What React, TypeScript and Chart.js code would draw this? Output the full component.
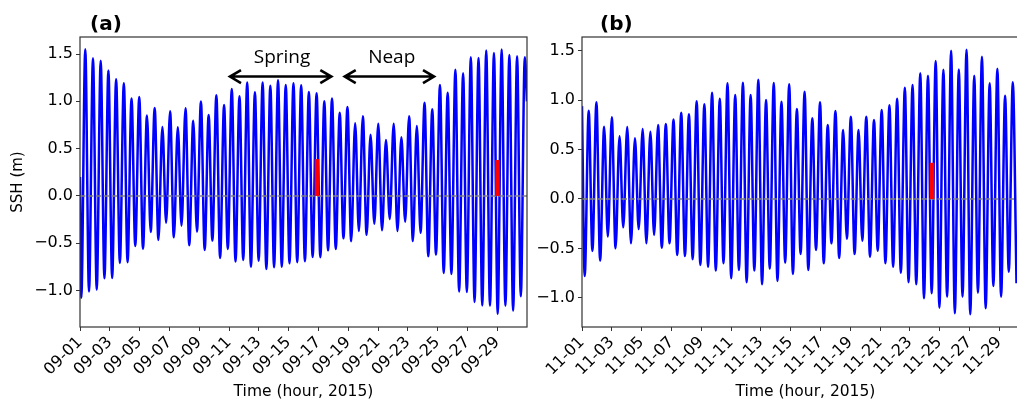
import React, { useEffect, useRef } from 'react';
import { Chart, registerables } from 'chart.js';

Chart.register(...registerables);
Chart.defaults.font.family = "'DejaVu Sans', sans-serif";
Chart.defaults.color = '#000';

// ---- shared ----
const M2_PERIOD_H = 12.42; // spacing between successive high (or low) waters
const SPAN_HOURS = 720;
const tickDays = [1, 3, 5, 7, 9, 11, 13, 15, 17, 19, 21, 23, 25, 27, 29];
const aTickLabels = ['09-01', '09-03', '09-05', '09-07', '09-09', '09-11', '09-13', '09-15', '09-17', '09-19', '09-21', '09-23', '09-25', '09-27', '09-29'];
const bTickLabels = ['11-01', '11-03', '11-05', '11-07', '11-09', '11-11', '11-13', '11-15', '11-17', '11-19', '11-21', '11-23', '11-25', '11-27', '11-29'];
const yTicks = [-1.0, -0.5, 0.0, 0.5, 1.0, 1.5];

// ---- panel (a): September 2015 ----
const aStartValue = 0.2;
const aEndValue = 1.0;
const aFirstLowHour = 2.1;
const aFirstHighHour = 8.5;
const aHighs = [1.55, 1.455, 1.43, 1.325, 1.233, 1.19, 1.03, 1.047, 0.85, 0.93,
  0.73, 0.895, 0.726, 0.927, 0.796, 0.997, 0.856, 1.064, 0.962, 1.13,
  1.054, 1.198, 1.096, 1.2, 1.166, 1.223, 1.173, 1.19, 1.17, 1.10,
  1.085, 1.0, 1.03, 0.88, 0.94, 0.768, 0.842, 0.648, 0.764, 0.592,
  0.764, 0.62, 0.842, 0.74, 0.986, 0.916, 1.173, 1.092, 1.335, 1.297,
  1.466, 1.459, 1.536, 1.512, 1.547, 1.49, 1.477, 1.466];
const aLows = [-1.075, -1.01, -0.99, -0.87, -0.867, -0.708, -0.70, -0.528, -0.557, -0.38,
  -0.465, -0.282, -0.437, -0.314, -0.52, -0.377, -0.571, -0.472, -0.655, -0.56,
  -0.694, -0.676, -0.747, -0.684, -0.772, -0.754, -0.747, -0.712, -0.70, -0.69,
  -0.645, -0.648, -0.575, -0.56, -0.447, -0.478, -0.37, -0.41, -0.295, -0.363,
  -0.245, -0.37, -0.272, -0.476, -0.39, -0.638, -0.62, -0.813, -0.824, -1.01,
  -1.015, -1.12, -1.157, -1.16, -1.247, -1.16, -1.213, -1.06];
const aRedBarHours = [381.7, 672.5];
const aRedBarTops = [0.39, 0.38];
const aYMin = -1.385;
const aYMax = 1.68;
const springArrowHours = [241.6, 404.8];
const neapArrowHours = [426.4, 570.2];
const arrowValue = 1.262;
const springLabelHour = 325.4;
const neapLabelHour = 502.1;
const phaseLabelValue = 1.41;

// ---- panel (b): November 2015 ----
const bStartValue = 0.94;
const bFirstLowHour = 4.35;
const bFirstHighHour = 10.8;
const bHighs = [0.894, 0.979, 0.732, 0.827, 0.634, 0.729, 0.614, 0.709, 0.681, 0.749,
  0.759, 0.806, 0.873, 0.857, 0.989, 0.958, 1.076, 1.015, 1.171, 1.053,
  1.178, 1.053, 1.208, 1.002, 1.174, 0.985, 1.161, 0.911, 1.086, 0.817,
  0.979, 0.749, 0.891, 0.698, 0.833, 0.698, 0.833, 0.8, 0.901, 0.948,
  1.015, 1.127, 1.154, 1.272, 1.248, 1.397, 1.309, 1.501, 1.312, 1.511,
  1.248, 1.44, 1.171, 1.319, 1.046, 1.181];
const bLows = [-0.78, -0.526, -0.624, -0.381, -0.499, -0.287, -0.449, -0.304, -0.449, -0.364,
  -0.493, -0.449, -0.567, -0.577, -0.61, -0.668, -0.685, -0.725, -0.651, -0.803,
  -0.719, -0.843, -0.725, -0.864, -0.705, -0.83, -0.645, -0.759, -0.557, -0.719,
  -0.516, -0.651, -0.449, -0.597, -0.402, -0.557, -0.422, -0.584, -0.523, -0.651,
  -0.685, -0.746, -0.843, -0.864, -1.005, -0.955, -1.1, -0.989, -1.157, -0.989,
  -1.167, -0.948, -1.107, -0.881, -0.989, -0.736, -0.853];
const bRedBarHours = [563.8];
const bRedBarTops = [0.367];
const bYMin = -1.296;
const bYMax = 1.64;

type Pt = { x: number; y: number };

function buildSeries(startValue: number, firstLow: number, firstHigh: number, lows: number[], highs: number[], endValue?: number): Pt[] {
  const pts: Pt[] = [{ x: 0, y: startValue }];
  const n = Math.max(lows.length, highs.length);
  for (let i = 0; i < n; i++) {
    const lo = i < lows.length ? { x: firstLow + i * M2_PERIOD_H, y: lows[i] } : null;
    const hi = i < highs.length ? { x: firstHigh + i * M2_PERIOD_H, y: highs[i] } : null;
    const pair = [lo, hi].filter(Boolean) as Pt[];
    pair.sort((p, q) => p.x - q.x);
    pts.push(...pair);
  }
  if (endValue !== undefined) pts.push({ x: SPAN_HOURS, y: endValue });
  return pts;
}

const fmtY = (v: number) => (v < 0 ? '\u2212' : '') + Math.abs(v).toFixed(1);

const framePlugin = {
  id: 'frame',
  afterDatasetsDraw(chart: any) {
    const { ctx, chartArea: a } = chart;
    ctx.save();
    ctx.strokeStyle = '#333';
    ctx.lineWidth = 1.2;
    ctx.strokeRect(a.left, a.top, a.right - a.left, a.bottom - a.top);
    ctx.restore();
  },
};

function panelLabelPlugin(text: string, x: number) {
  return {
    id: 'panelLabel',
    afterDraw(chart: any) {
      const { ctx } = chart;
      ctx.save();
      ctx.font = "bold 20px 'DejaVu Sans', sans-serif";
      ctx.fillStyle = '#000';
      ctx.textAlign = 'left';
      ctx.textBaseline = 'alphabetic';
      ctx.fillText(text, x, 30);
      ctx.restore();
    },
  };
}

function drawDoubleArrow(ctx: CanvasRenderingContext2D, x1: number, x2: number, y: number) {
  const hl = 11, hw = 6.5;
  ctx.beginPath();
  ctx.moveTo(x1 + 1, y);
  ctx.lineTo(x2 - 1, y);
  ctx.moveTo(x1 + hl, y - hw);
  ctx.lineTo(x1, y);
  ctx.lineTo(x1 + hl, y + hw);
  ctx.moveTo(x2 - hl, y - hw);
  ctx.lineTo(x2, y);
  ctx.lineTo(x2 - hl, y + hw);
  ctx.stroke();
}

const phasePlugin = {
  id: 'phases',
  afterDraw(chart: any) {
    const { ctx, scales } = chart;
    const xs = scales.x, ys = scales.y;
    const yA = ys.getPixelForValue(arrowValue);
    ctx.save();
    ctx.strokeStyle = '#000';
    ctx.lineWidth = 2.6;
    ctx.lineCap = 'butt';
    ctx.lineJoin = 'miter';
    drawDoubleArrow(ctx, xs.getPixelForValue(springArrowHours[0]), xs.getPixelForValue(springArrowHours[1]), yA);
    drawDoubleArrow(ctx, xs.getPixelForValue(neapArrowHours[0]), xs.getPixelForValue(neapArrowHours[1]), yA);
    ctx.fillStyle = '#000';
    ctx.font = "19px 'Open Sans', sans-serif";
    ctx.textAlign = 'center';
    ctx.textBaseline = 'alphabetic';
    const yL = ys.getPixelForValue(phaseLabelValue);
    ctx.fillText('Spring', xs.getPixelForValue(springLabelHour), yL);
    ctx.fillText('Neap', xs.getPixelForValue(neapLabelHour), yL);
    ctx.restore();
  },
};

function makeConfig(o: any): any {
  const datasets: any[] = [];
  o.redHours.forEach((h: number, i: number) => {
    datasets.push({
      data: [{ x: h, y: 0 }, { x: h, y: o.redTops[i] }],
      borderColor: '#ff0000', borderWidth: 4.5, borderCapStyle: 'butt',
      pointRadius: 0, tension: 0, order: 0,
    });
  });
  datasets.push({
    data: [{ x: 0, y: 0 }, { x: SPAN_HOURS, y: 0 }],
    borderColor: '#808080', borderWidth: 1.6, borderDash: [5.5, 2.4],
    pointRadius: 0, tension: 0, order: 1,
  });
  datasets.push({
    data: o.series,
    borderColor: '#0000ff', borderWidth: 2.5, pointRadius: 0,
    cubicInterpolationMode: 'monotone', order: 2,
  });
  return {
    type: 'line',
    data: { datasets },
    options: {
      animation: false,
      responsive: false,
      devicePixelRatio: 1,
      events: [],
      layout: { padding: { left: 0, right: o.padRight, top: 37, bottom: 0 } },
      plugins: { legend: { display: false }, tooltip: { enabled: false } },
      scales: {
        x: {
          type: 'linear', min: 0, max: SPAN_HOURS,
          afterBuildTicks: (s: any) => { s.ticks = tickDays.map((d) => ({ value: (d - 1) * 24 })); },
          afterFit: (s: any) => { s.height = 78; },
          ticks: {
            autoSkip: false, minRotation: 45, maxRotation: 45, padding: 2,
            font: { size: 16 }, color: '#000',
            callback: (_v: any, i: number) => o.tickLabels[i],
          },
          grid: { display: true, drawOnChartArea: false, drawTicks: true, tickLength: 4, color: '#333' },
          border: { display: false },
          title: { display: true, text: 'Time (hour, 2015)', font: { size: 15.5 }, color: '#000', padding: { top: 4, bottom: 4 } },
        },
        y: {
          type: 'linear', min: o.yMin, max: o.yMax,
          afterBuildTicks: (s: any) => { s.ticks = yTicks.map((v) => ({ value: v })); },
          afterFit: (s: any) => { s.width = o.yAxisWidth; },
          ticks: { padding: 3, font: { size: 16 }, color: '#000', callback: (v: any) => fmtY(Number(v)) },
          grid: { display: true, drawOnChartArea: false, drawTicks: true, tickLength: 4, color: '#333' },
          border: { display: false },
          title: { display: !!o.yTitle, text: o.yTitle || '', font: { size: 15 }, color: '#000', padding: { top: 9, bottom: 0 } },
        },
      },
    },
    plugins: o.plugins,
  };
}

export default function App() {
  const refA = useRef<HTMLCanvasElement>(null);
  const refB = useRef<HTMLCanvasElement>(null);

  useEffect(() => {
    const seriesA = buildSeries(aStartValue, aFirstLowHour, aFirstHighHour, aLows, aHighs, aEndValue);
    const seriesB = buildSeries(bStartValue, bFirstLowHour, bFirstHighHour, bLows, bHighs);
    const ca = new Chart(refA.current as HTMLCanvasElement, makeConfig({
      series: seriesA, redHours: aRedBarHours, redTops: aRedBarTops,
      yMin: aYMin, yMax: aYMax, tickLabels: aTickLabels, yTitle: 'SSH (m)',
      yAxisWidth: 80, padRight: 13,
      plugins: [framePlugin, phasePlugin, panelLabelPlugin('(a)', 90)],
    }));
    const cb = new Chart(refB.current as HTMLCanvasElement, makeConfig({
      series: seriesB, redHours: bRedBarHours, redTops: bRedBarTops,
      yMin: bYMin, yMax: bYMax, tickLabels: bTickLabels, yTitle: '',
      yAxisWidth: 54, padRight: 19,
      plugins: [framePlugin, panelLabelPlugin('(b)', 72)],
    }));
    return () => { ca.destroy(); cb.destroy(); };
  }, []);

  return (
    <div style={{ position: 'absolute', left: 0, top: 0, width: 1017, height: 405, overflow: 'hidden', background: '#fff' }}>
      <canvas ref={refA} width={540} height={405} style={{ position: 'absolute', left: 0, top: 0, width: 540, height: 405 }} />
      <canvas ref={refB} width={520} height={405} style={{ position: 'absolute', left: 528, top: 0, width: 520, height: 405 }} />
    </div>
  );
}
